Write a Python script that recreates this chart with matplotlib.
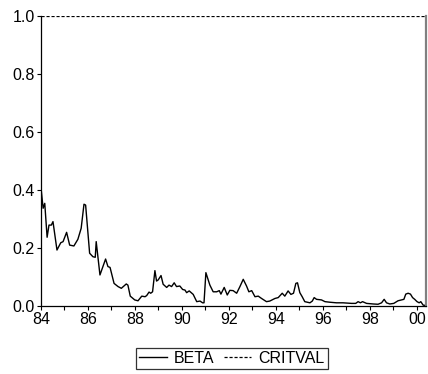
import matplotlib.pyplot as plt

# decimal year, BETA value
beta_year = [1984.01, 1984.09, 1984.16, 1984.26, 1984.34, 1984.44, 1984.51, 1984.68, 1984.84, 1984.94,
             1985.09, 1985.22, 1985.40, 1985.57, 1985.71, 1985.83, 1985.90, 1986.07, 1986.21, 1986.31,
             1986.35, 1986.51, 1986.75, 1986.85, 1986.94, 1987.11, 1987.28, 1987.42, 1987.63, 1987.70,
             1987.80, 1987.99, 1988.13, 1988.29, 1988.43, 1988.50, 1988.60, 1988.67, 1988.75, 1988.85,
             1988.92, 1988.99, 1989.11, 1989.20, 1989.35, 1989.45, 1989.56, 1989.67, 1989.77, 1989.91,
             1990.03, 1990.13, 1990.20, 1990.31, 1990.48, 1990.63, 1990.77, 1990.88, 1990.94, 1991.02,
             1991.19, 1991.33, 1991.48, 1991.59, 1991.66, 1991.80, 1991.93, 1992.04, 1992.18, 1992.33,
             1992.47, 1992.61, 1992.75, 1992.85, 1992.97, 1993.11, 1993.25, 1993.39, 1993.60, 1993.74,
             1993.96, 1994.10, 1994.27, 1994.38, 1994.52, 1994.64, 1994.75, 1994.85, 1994.92, 1995.02,
             1995.12, 1995.23, 1995.45, 1995.55, 1995.63, 1995.73, 1995.94, 1996.09, 1996.30, 1996.58,
             1996.86, 1997.22, 1997.40, 1997.50, 1997.60, 1997.69, 1997.86, 1998.14, 1998.35, 1998.50,
             1998.61, 1998.71, 1998.85, 1999.02, 1999.20, 1999.35, 1999.45, 1999.53, 1999.63, 1999.73,
             1999.82, 1999.91, 2000.01, 2000.10, 2000.17, 2000.27, 2000.36]
beta = [0.400, 0.337, 0.354, 0.237, 0.279, 0.279, 0.291, 0.193, 0.218, 0.222,
        0.254, 0.210, 0.207, 0.230, 0.268, 0.351, 0.348, 0.182, 0.170, 0.168,
        0.222, 0.107, 0.162, 0.136, 0.133, 0.078, 0.067, 0.061, 0.076, 0.072,
        0.034, 0.021, 0.018, 0.034, 0.032, 0.036, 0.048, 0.044, 0.049, 0.122,
        0.086, 0.090, 0.105, 0.075, 0.064, 0.072, 0.067, 0.080, 0.067, 0.069,
        0.057, 0.055, 0.046, 0.052, 0.040, 0.015, 0.017, 0.011, 0.011, 0.115,
        0.072, 0.049, 0.049, 0.053, 0.041, 0.064, 0.038, 0.054, 0.053, 0.044,
        0.067, 0.092, 0.069, 0.049, 0.053, 0.032, 0.034, 0.026, 0.015, 0.017,
        0.026, 0.029, 0.044, 0.034, 0.052, 0.040, 0.044, 0.078, 0.080, 0.046,
        0.032, 0.015, 0.011, 0.017, 0.029, 0.023, 0.021, 0.015, 0.013, 0.011,
        0.011, 0.009, 0.009, 0.015, 0.011, 0.015, 0.009, 0.007, 0.006, 0.011,
        0.023, 0.011, 0.007, 0.009, 0.018, 0.021, 0.023, 0.041, 0.044, 0.041,
        0.029, 0.023, 0.015, 0.011, 0.015, 0.003, 0.002]
critval = 1.0

x_ticks = [1984, 1986, 1988, 1990, 1992, 1994, 1996, 1998, 2000]
x_labels = ["84", "86", "88", "90", "92", "94", "96", "98", "00"]
y_ticks = [0.0, 0.2, 0.4, 0.6, 0.8, 1.0]
y_labels = ["0.0", "0.2", "0.4", "0.6", "0.8", "1.0"]

plt.rcParams['font.family'] = ['Liberation Sans', 'DejaVu Sans']

fig = plt.figure(figsize=(4.28, 3.74), dpi=100)
ax = fig.add_axes([41 / 428, 1 - 306 / 374, 384.5 / 428, 290 / 374])

ax.plot(beta_year, beta, color="black", linewidth=1.0, label="BETA")
ax.axhline(critval, color="black", linewidth=0.9, linestyle=(0, (2.5, 1.5)), label="CRITVAL")

ax.set_xlim(1984, 2000.37)
ax.set_ylim(0, 1.0)
ax.set_xticks(x_ticks)
ax.set_xticklabels(x_labels)
ax.set_xticks(range(1985, 2001, 2), minor=True)
ax.set_yticks(y_ticks)
ax.set_yticklabels(y_labels)
ax.tick_params(which="both", direction="out", length=3, width=0.8, labelsize=11.5, pad=1.5)

ax.spines["top"].set_visible(False)
ax.spines["right"].set_color("#808080")
ax.spines["right"].set_linewidth(1.6)
ax.spines["left"].set_linewidth(0.9)
ax.spines["bottom"].set_linewidth(0.9)

leg = fig.legend(loc="center", bbox_to_anchor=(232 / 428, 1 - 358.5 / 374), ncol=2,
                 fontsize=11.5, frameon=True, fancybox=False, edgecolor="black",
                 handlelength=1.7, handletextpad=0.45, columnspacing=0.6,
                 borderpad=0.2, borderaxespad=0)
leg.get_frame().set_linewidth(0.9)

fig.savefig("out.png", dpi=100)
